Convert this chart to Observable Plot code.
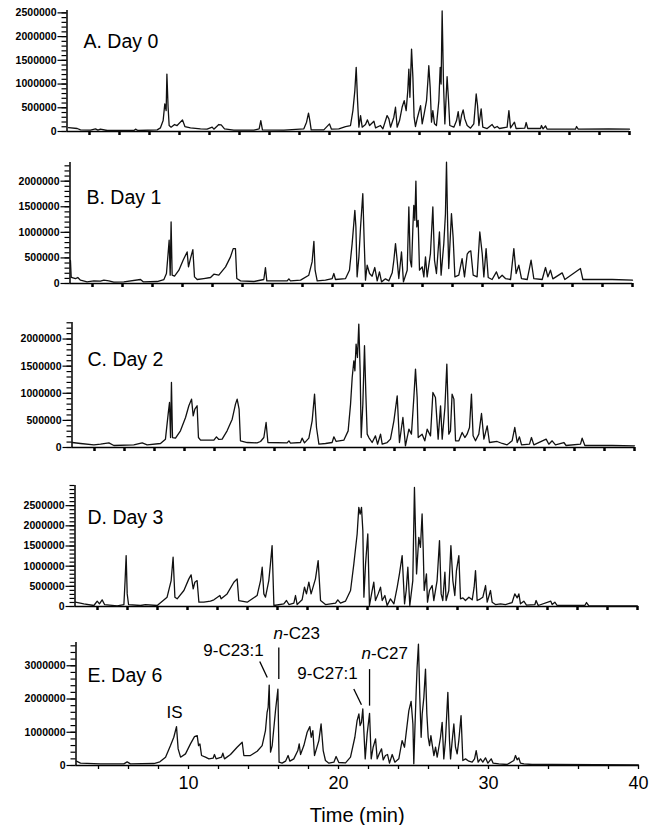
<!DOCTYPE html>
<html><head><meta charset="utf-8">
<script src="https://cdn.jsdelivr.net/npm/d3@7"></script>
<script src="https://cdn.jsdelivr.net/npm/@observablehq/plot@0.6"></script>
<style>
html,body{margin:0;padding:0;background:#fff;}
#chart{position:relative;width:650px;height:825px;font-family:"Liberation Sans",Arial,sans-serif;}
#chart svg{position:absolute;left:0;}
</style></head><body><div id="chart"></div>
<script>
// ---- data (time in min, intensity in counts) ----
const panelLabels = ["A. Day 0", "B. Day 1", "C. Day 2", "D. Day 3", "E. Day 6"];
const timeTicks = [4,6,8,10,12,14,16,18,20,22,24,26,28,30,32,34,36,38,40];
const timeLabels = [10, 20, 30, 40];
const yTicksA = [0, 500000, 1000000, 1500000, 2000000, 2500000];
const yTicksB = [0, 500000, 1000000, 1500000, 2000000];
const yTicksC = [0, 500000, 1000000, 1500000, 2000000];
const yTicksD = [0, 500000, 1000000, 1500000, 2000000, 2500000];
const yTicksE = [0, 1000000, 2000000, 3000000];
const yMinorStep = [100000, 100000, 100000, 100000, 200000];
const yMax = [2550000, 2365000, 2305000, 3000000, 3700000];

const day0 = [[2.6,80000],[3.18,63000],[3.4,35000],[4.07,28000],[4.4,56000],[4.56,28000],[4.73,49000],[5.18,21000],[6.96,21000],[7.07,49000],[7.22,21000],[8.51,35000],[8.73,77000],[8.91,231000],[9.02,581000],[9.11,441000],[9.16,1211000],[9.24,511000],[9.31,126000],[9.44,91000],[9.67,147000],[9.84,126000],[10.2,245000],[10.36,105000],[10.73,77000],[11.4,56000],[11.84,49000],[12.18,91000],[12.29,49000],[12.62,147000],[12.78,140000],[13.0,56000],[13.62,28000],[14.96,28000],[15.31,56000],[15.42,231000],[15.53,35000],[16.96,28000],[18.29,56000],[18.47,196000],[18.6,385000],[18.69,231000],[18.78,35000],[19.62,35000],[20.0,161000],[20.13,49000],[20.62,56000],[21.07,105000],[21.4,126000],[21.56,441000],[21.69,861000],[21.78,1351000],[21.87,651000],[21.96,91000],[22.07,336000],[22.18,91000],[22.4,147000],[22.53,245000],[22.67,126000],[22.96,217000],[23.07,77000],[23.4,126000],[23.56,56000],[23.84,336000],[23.96,266000],[24.07,91000],[24.29,301000],[24.4,511000],[24.51,91000],[24.67,231000],[24.84,511000],[24.98,651000],[25.11,441000],[25.22,861000],[25.29,1316000],[25.36,721000],[25.47,1736000],[25.56,1141000],[25.64,301000],[25.73,105000],[25.87,301000],[26.07,546000],[26.18,161000],[26.31,371000],[26.47,651000],[26.56,1071000],[26.62,1386000],[26.71,931000],[26.8,196000],[26.89,441000],[27.0,161000],[27.13,126000],[27.29,651000],[27.38,1351000],[27.44,1001000],[27.51,2541000],[27.6,1001000],[27.69,161000],[27.84,1155000],[27.93,686000],[28.02,126000],[28.29,91000],[28.47,231000],[28.58,420000],[28.69,126000],[28.8,336000],[28.91,455000],[29.02,266000],[29.18,126000],[29.4,70000],[29.62,161000],[29.78,791000],[29.87,546000],[29.96,126000],[30.11,476000],[30.22,91000],[30.51,63000],[30.84,147000],[31.0,77000],[31.18,105000],[31.33,63000],[31.84,91000],[31.96,441000],[32.07,77000],[32.33,196000],[32.44,63000],[33.02,70000],[33.11,189000],[33.22,63000],[34.07,63000],[34.13,126000],[34.24,56000],[34.4,119000],[34.51,49000],[36.4,49000],[36.47,105000],[36.58,49000],[38.62,56000],[40.0,49000]];

const day1 = [[2.53,450000],[2.58,120000],[2.64,117000],[2.87,97000],[3.02,117000],[3.2,65000],[3.64,32000],[4.09,52000],[4.53,45000],[4.76,65000],[5.09,52000],[5.42,26000],[6.09,32000],[7.2,78000],[7.38,32000],[8.31,39000],[8.76,78000],[8.93,195000],[9.04,585000],[9.11,845000],[9.18,162000],[9.24,1202000],[9.31,162000],[9.47,143000],[9.76,260000],[10.04,455000],[10.31,617000],[10.4,325000],[10.53,487000],[10.69,663000],[10.8,130000],[10.98,78000],[11.42,97000],[11.87,117000],[12.09,182000],[12.42,162000],[12.87,325000],[13.2,520000],[13.38,682000],[13.53,682000],[13.62,97000],[13.87,52000],[14.76,39000],[15.42,78000],[15.53,312000],[15.62,52000],[16.98,52000],[17.09,91000],[17.2,52000],[17.87,65000],[18.42,162000],[18.64,422000],[18.76,825000],[18.84,260000],[18.98,52000],[19.53,65000],[19.98,97000],[20.09,195000],[20.2,78000],[20.87,97000],[21.13,260000],[21.31,780000],[21.42,1170000],[21.49,1430000],[21.56,1105000],[21.64,130000],[21.76,520000],[21.87,1105000],[22.02,1755000],[22.11,845000],[22.2,65000],[22.31,357000],[22.47,195000],[22.64,143000],[22.82,312000],[22.98,52000],[23.13,227000],[23.27,32000],[23.53,91000],[23.76,52000],[23.98,208000],[24.09,455000],[24.2,780000],[24.31,455000],[24.42,97000],[24.6,617000],[24.73,32000],[24.98,260000],[25.09,1495000],[25.18,455000],[25.27,325000],[25.36,1105000],[25.42,1527000],[25.49,1235000],[25.56,2002000],[25.62,1105000],[25.71,1235000],[25.8,260000],[25.98,325000],[26.09,130000],[26.2,520000],[26.31,130000],[26.53,585000],[26.69,1495000],[26.8,455000],[26.93,195000],[27.13,1007000],[27.24,162000],[27.42,780000],[27.53,1365000],[27.6,2372000],[27.68,1105000],[27.75,292000],[27.93,1365000],[28.04,910000],[28.16,130000],[28.42,162000],[28.64,487000],[28.8,130000],[28.98,572000],[29.09,617000],[29.22,637000],[29.38,162000],[29.64,130000],[29.82,1007000],[29.98,585000],[30.09,130000],[30.24,682000],[30.38,117000],[30.64,78000],[30.93,227000],[31.09,97000],[31.31,162000],[31.53,97000],[31.87,78000],[32.09,682000],[32.24,195000],[32.42,357000],[32.6,97000],[32.98,78000],[33.24,455000],[33.42,97000],[33.98,78000],[34.2,312000],[34.36,130000],[34.53,260000],[34.69,91000],[35.31,208000],[35.49,78000],[36.53,292000],[36.69,78000],[38.64,78000],[40.0,65000]];

const day2 = [[2.51,92000],[3.07,74000],[3.96,49000],[4.4,61000],[4.96,86000],[5.29,37000],[6.62,49000],[7.18,86000],[7.51,49000],[8.4,74000],[8.73,154000],[8.91,615000],[9.0,830000],[9.07,184000],[9.13,1199000],[9.2,184000],[9.4,172000],[9.73,307000],[10.07,553000],[10.29,769000],[10.47,892000],[10.58,584000],[10.69,707000],[10.84,769000],[10.93,184000],[11.07,135000],[11.96,135000],[12.13,197000],[12.29,148000],[12.51,154000],[12.84,307000],[13.18,523000],[13.4,800000],[13.51,892000],[13.64,707000],[13.73,123000],[14.18,92000],[14.84,86000],[15.07,111000],[15.29,184000],[15.44,461000],[15.56,92000],[16.84,86000],[16.96,123000],[17.07,80000],[17.73,92000],[17.84,172000],[18.0,86000],[18.29,172000],[18.51,492000],[18.67,984000],[18.8,369000],[18.96,61000],[19.4,74000],[19.84,92000],[19.96,197000],[20.11,111000],[20.62,135000],[20.91,307000],[21.07,800000],[21.18,1291000],[21.29,1599000],[21.36,1414000],[21.44,1906000],[21.53,1660000],[21.62,2275000],[21.71,1414000],[21.78,184000],[21.89,800000],[22.0,1876000],[22.09,984000],[22.18,246000],[22.29,184000],[22.51,92000],[22.73,215000],[22.87,61000],[23.07,246000],[23.18,61000],[23.51,92000],[23.73,154000],[23.96,492000],[24.18,953000],[24.33,92000],[24.56,553000],[24.73,31000],[24.96,338000],[25.13,246000],[25.29,922000],[25.4,1445000],[25.51,922000],[25.58,184000],[25.84,246000],[26.02,123000],[26.18,338000],[26.4,215000],[26.56,1015000],[26.73,922000],[26.91,154000],[27.07,769000],[27.18,154000],[27.36,738000],[27.49,1537000],[27.62,246000],[27.73,307000],[27.84,984000],[27.96,892000],[28.07,123000],[28.29,123000],[28.51,277000],[28.69,184000],[28.84,246000],[29.0,369000],[29.13,984000],[29.24,215000],[29.4,123000],[29.62,246000],[29.8,627000],[29.96,154000],[30.18,400000],[30.33,92000],[30.84,111000],[31.18,74000],[31.51,49000],[31.84,123000],[32.02,369000],[32.18,92000],[32.33,197000],[32.47,49000],[33.0,61000],[33.13,184000],[33.29,49000],[34.11,154000],[34.29,61000],[34.51,123000],[34.73,49000],[35.29,92000],[35.44,37000],[36.4,61000],[36.51,172000],[36.69,37000],[38.51,37000],[40.0,31000]];

const day3 = [[2.53,107000],[3.09,66000],[3.76,25000],[3.98,132000],[4.13,66000],[4.31,165000],[4.47,49000],[5.31,16000],[5.76,49000],[5.84,643000],[5.91,1262000],[5.98,313000],[6.07,49000],[6.87,25000],[7.2,49000],[7.98,25000],[8.64,231000],[8.91,643000],[9.04,1221000],[9.16,231000],[9.31,190000],[9.76,396000],[10.09,685000],[10.24,784000],[10.38,437000],[10.49,602000],[10.64,643000],[10.76,107000],[11.09,107000],[11.53,132000],[11.76,165000],[12.16,272000],[12.24,190000],[12.64,313000],[13.09,602000],[13.31,685000],[13.42,148000],[13.98,107000],[14.64,272000],[14.87,643000],[14.98,973000],[15.09,313000],[15.2,231000],[15.42,643000],[15.53,1056000],[15.64,1510000],[15.76,25000],[16.42,66000],[16.6,148000],[16.76,49000],[17.09,82000],[17.2,272000],[17.31,49000],[17.64,165000],[17.8,478000],[17.93,313000],[18.09,602000],[18.24,313000],[18.53,685000],[18.71,1138000],[18.87,148000],[19.2,49000],[19.87,82000],[20.02,165000],[20.2,82000],[20.53,132000],[20.87,396000],[21.09,1056000],[21.31,1798000],[21.42,2458000],[21.51,2293000],[21.6,2458000],[21.69,1881000],[21.76,231000],[21.87,1056000],[22.02,1798000],[22.13,25000],[22.31,396000],[22.42,602000],[22.53,148000],[22.71,313000],[22.87,478000],[22.98,148000],[23.16,272000],[23.31,25000],[23.53,190000],[23.76,66000],[23.98,478000],[24.13,808000],[24.31,1262000],[24.47,66000],[24.58,396000],[24.69,973000],[24.82,25000],[25.02,643000],[25.13,2953000],[25.2,1881000],[25.27,808000],[25.42,1716000],[25.53,1468000],[25.64,2293000],[25.71,1468000],[25.78,396000],[25.93,808000],[26.0,107000],[26.13,396000],[26.31,520000],[26.42,148000],[26.64,643000],[26.8,1633000],[26.91,313000],[27.02,148000],[27.16,850000],[27.24,148000],[27.42,396000],[27.56,1510000],[27.69,643000],[27.82,272000],[27.93,891000],[28.09,1262000],[28.2,190000],[28.36,214000],[28.53,148000],[28.76,231000],[28.98,165000],[29.11,478000],[29.2,891000],[29.31,148000],[29.53,190000],[29.69,231000],[29.87,520000],[29.98,107000],[30.2,396000],[30.31,107000],[30.53,49000],[30.87,66000],[31.2,49000],[31.64,99000],[31.82,313000],[31.98,214000],[32.09,313000],[32.2,66000],[32.42,132000],[32.6,33000],[33.16,49000],[33.24,148000],[33.38,25000],[34.22,132000],[34.31,49000],[34.49,107000],[34.64,25000],[36.49,25000],[36.6,99000],[36.76,16000],[40.0,16000]];

const day6 = [[2.53,130000],[2.8,70000],[4.13,50000],[5.69,50000],[5.91,110000],[6.13,50000],[7.69,60000],[8.09,110000],[8.47,250000],[8.8,600000],[9.02,850000],[9.2,1170000],[9.31,500000],[9.47,250000],[9.8,350000],[10.13,650000],[10.4,870000],[10.58,900000],[10.67,600000],[10.76,650000],[10.87,300000],[11.13,250000],[11.36,200000],[11.64,220000],[11.73,330000],[11.84,200000],[12.2,250000],[12.29,370000],[12.4,200000],[12.8,330000],[13.24,550000],[13.58,700000],[13.69,300000],[14.13,300000],[14.58,430000],[14.91,600000],[15.13,1050000],[15.24,1600000],[15.31,1750000],[15.38,2420000],[15.47,400000],[15.58,600000],[15.8,1650000],[15.96,2300000],[16.04,100000],[16.24,70000],[16.47,130000],[16.64,300000],[16.76,130000],[17.02,200000],[17.29,450000],[17.38,650000],[17.47,330000],[17.69,600000],[17.91,1000000],[18.09,1170000],[18.18,850000],[18.29,1050000],[18.4,300000],[18.69,750000],[18.84,1250000],[18.98,450000],[19.13,150000],[19.36,70000],[19.69,100000],[19.84,270000],[20.02,90000],[20.47,80000],[20.8,250000],[21.09,850000],[21.24,1350000],[21.36,1550000],[21.44,1200000],[21.53,1300000],[21.62,1700000],[21.69,1050000],[21.78,200000],[21.91,950000],[22.07,1570000],[22.18,200000],[22.31,550000],[22.47,800000],[22.58,200000],[22.73,370000],[22.87,500000],[22.98,170000],[23.13,300000],[23.27,330000],[23.4,70000],[23.58,330000],[23.76,100000],[24.02,200000],[24.24,750000],[24.4,550000],[24.53,1050000],[24.69,1650000],[24.84,1930000],[24.96,1250000],[25.02,50000],[25.09,1050000],[25.18,2250000],[25.24,2950000],[25.33,3650000],[25.42,2050000],[25.51,850000],[25.58,1550000],[25.69,2050000],[25.8,2900000],[25.89,1550000],[25.98,850000],[26.07,600000],[26.16,900000],[26.24,650000],[26.36,300000],[26.47,550000],[26.58,250000],[26.8,850000],[26.91,1300000],[27.02,200000],[27.13,750000],[27.29,2200000],[27.4,750000],[27.47,200000],[27.58,750000],[27.69,1250000],[27.8,550000],[27.91,350000],[28.02,750000],[28.17,1500000],[28.29,150000],[28.47,200000],[28.69,130000],[28.91,100000],[29.07,200000],[29.18,450000],[29.31,100000],[29.47,200000],[29.62,100000],[29.8,230000],[29.96,70000],[30.18,200000],[30.31,70000],[30.69,50000],[31.24,30000],[31.69,150000],[31.8,300000],[31.91,170000],[32.02,230000],[32.13,70000],[32.36,50000],[32.91,30000],[34.24,30000],[40.0,20000]];

// peak annotations in panel E (time, intensity of label anchor)
const peakLabels = [
  {text: "IS", t: 9.07, v: 1440000},
  {text: "9-C23:1", t: 13.0, v: 3300000},
  {text: "9-C27:1", t: 19.27, v: 2610000}
];
const alkaneSuffix = [
  {text: "-C23", t: 16.3, v: 3810000},
  {text: "-C27", t: 22.17, v: 3210000}
];
const italicPrefix = [
  {text: "n", t: 16.3, v: 3810000},
  {text: "n", t: 22.17, v: 3210000}
];
const leaders = [
  {t1: 14.75, v1: 3130000, t2: 15.25, v2: 2650000},
  {t1: 16.02, v1: 3550000, t2: 16.02, v2: 2600000},
  {t1: 21.02, v1: 2300000, t2: 21.53, v2: 1830000},
  {t1: 22.07, v1: 2900000, t2: 22.07, v2: 1800000}
];

// ---- layout (pixels) ----
const series = [day0, day1, day2, day3, day6];
const yTicks = [yTicksA, yTicksB, yTicksC, yTicksD, yTicksE];
const layout = [
  {top: 10, zero: 131, left: 66.5, right: 629, ldx: 16.5, ldy: 37},
  {top: 162, zero: 283, left: 69.5, right: 632, ldx: 16.5, ldy: 41},
  {top: 322, zero: 447, left: 71.5, right: 634, ldx: 15.5, ldy: 43},
  {top: 485, zero: 606, left: 74.5, right: 637, ldx: 12.5, ldy: 38},
  {top: 642, zero: 765, left: 75.5, right: 638, ldx: 11.5, ldy: 39}
];
const FONT = "Liberation Sans, Arial, sans-serif";
const chart = document.getElementById("chart");
const noText = () => "";

series.forEach((data, i) => {
  const L = layout[i];
  const last = i === series.length - 1;
  const mt = 4, mb = last ? 60 : 10;
  const minor = d3.range(0, yMax[i] + 1, yMinorStep[i]);
  const marks = [
    Plot.axisY(minor, {tickSize: 5, strokeWidth: 1.2, tickFormat: noText, label: null}),
    Plot.axisY(yTicks[i], {tickSize: 9, tickPadding: 1.5, tickFormat: d => String(d), fontSize: 10.5, fontWeight: "bold", strokeWidth: 1.2, label: null}),
    Plot.axisX(timeTicks, {tickSize: 4, strokeWidth: last ? 1.3 : 2.5, tickFormat: noText, label: null}),
    Plot.ruleX([2.5], {strokeWidth: 1.5}),
    Plot.ruleY([0], {strokeWidth: 1.6}),
    Plot.line(data, {x: d => d[0], y: d => d[1], stroke: "#111", strokeWidth: 1.3}),
    Plot.text([panelLabels[i]], {frameAnchor: "top-left", dx: L.ldx, dy: L.ldy, lineAnchor: "bottom", textAnchor: "start", fontSize: 19.5, fill: "#000"})
  ];
  if (last) {
    marks.push(
      Plot.axisX(timeLabels, {tickSize: 0, tickPadding: 11, fontSize: 18, label: null}),
      Plot.text(["Time (min)"], {frameAnchor: "bottom", dy: 56, lineAnchor: "bottom", fontSize: 20, fill: "#000"}),
      Plot.text(peakLabels, {x: "t", y: "v", text: "text", textAnchor: "middle", lineAnchor: "bottom", fontSize: 17, fill: "#000"}),
      Plot.text(alkaneSuffix, {x: "t", y: "v", text: "text", textAnchor: "start", lineAnchor: "bottom", fontSize: 17, fill: "#000"}),
      Plot.text(italicPrefix, {x: "t", y: "v", text: "text", textAnchor: "end", lineAnchor: "bottom", fontSize: 17, fontStyle: "italic", fill: "#000"}),
      Plot.link(leaders, {x1: "t1", y1: "v1", x2: "t2", y2: "v2", stroke: "#000", strokeWidth: 1.3})
    );
  }
  const svg = Plot.plot({
    width: 650,
    height: L.zero - L.top + mt + mb,
    marginTop: mt, marginBottom: mb,
    marginLeft: L.left, marginRight: 650 - L.right,
    style: {fontFamily: FONT, color: "#000", background: "transparent", overflow: "visible"},
    x: {domain: [2.5, 40], label: null},
    y: {domain: [0, yMax[i]], label: null},
    marks
  });
  svg.style.top = (L.top - mt) + "px";
  chart.appendChild(svg);
});
</script>
</body></html>
